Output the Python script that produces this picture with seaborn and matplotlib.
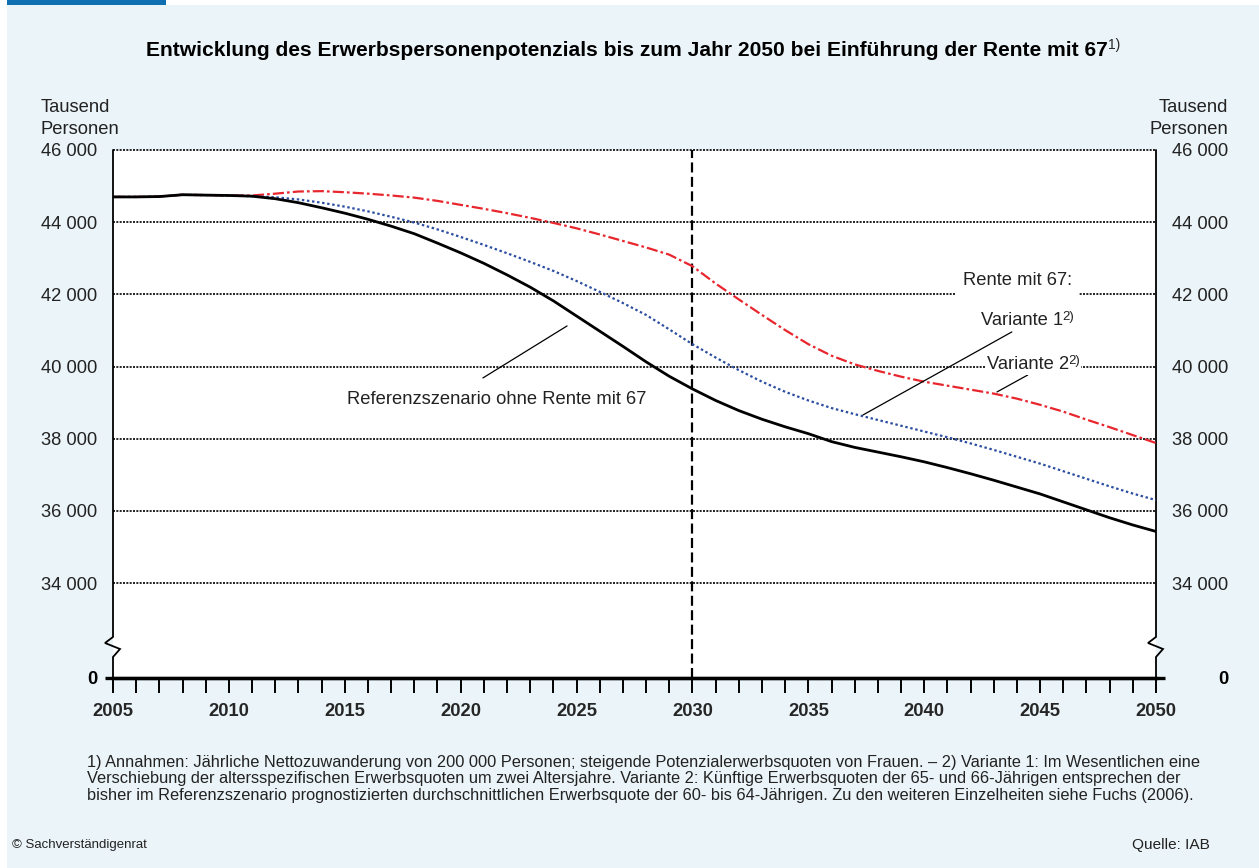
import pandas as pd
import matplotlib
matplotlib.use("Agg")
import matplotlib.pyplot as plt
import seaborn as sns
from matplotlib.patches import Rectangle

# Werte (Tausend Personen)
jahre = list(range(2005, 2051))
referenz = [44700, 44700, 44710, 44760, 44750, 44740, 44720, 44650, 44540, 44400,
            44250, 44080, 43890, 43680, 43420, 43150, 42860, 42540, 42200, 41820,
            41400, 40980, 40560, 40130, 39730, 39380, 39060, 38780, 38540, 38330,
            38140, 37920, 37760, 37630, 37500, 37360, 37200, 37030, 36850, 36660,
            36470, 36250, 36030, 35810, 35610, 35430]
variante1 = [44700, 44700, 44710, 44760, 44750, 44740, 44720, 44690, 44630, 44540,
             44430, 44300, 44150, 43990, 43800, 43590, 43370, 43140, 42900, 42650,
             42370, 42070, 41760, 41430, 41030, 40620, 40250, 39900, 39580, 39300,
             39060, 38850, 38680, 38520, 38360, 38200, 38040, 37870, 37690, 37500,
             37310, 37100, 36890, 36680, 36480, 36300]
variante2 = [44700, 44700, 44710, 44760, 44750, 44740, 44740, 44790, 44850, 44860,
             44830, 44790, 44740, 44680, 44590, 44480, 44370, 44250, 44120, 43980,
             43830, 43660, 43480, 43300, 43100, 42780, 42300, 41860, 41430, 41010,
             40620, 40300, 40060, 39880, 39720, 39580, 39470, 39360, 39250, 39110,
             38940, 38750, 38530, 38320, 38100, 37880]

y_ticks = [34000, 36000, 38000, 40000, 42000, 44000, 46000]
y_labels = ["34 000", "36 000", "38 000", "40 000", "42 000", "44 000", "46 000"]
null_pos = 31370   # Stelle der unterbrochenen Achse, dort steht "0"

W, H = 1259, 868
BG = "#ebf4f8"
TXT = "#222222"
FS = 13.2

def fx(px):
    return px / W

def fy(py):
    return 1 - py / H

df = pd.DataFrame({"Jahr": jahre, "Referenz": referenz,
                   "Variante 1": variante1, "Variante 2": variante2})

sns.set_theme(style="white")
plt.rcParams["font.family"] = ["Liberation Sans", "DejaVu Sans"]

fig = plt.figure(figsize=(12.59, 8.68), dpi=100)
fig.patch.set_facecolor("white")
fig.add_artist(Rectangle((fx(7), 0), 1, fy(4.5), transform=fig.transFigure,
                         facecolor=BG, edgecolor="none", zorder=-10))
fig.add_artist(Rectangle((fx(7), fy(4.5)), fx(159), 4.5 / H, transform=fig.transFigure,
                         facecolor="#0f6fb0", edgecolor="none", zorder=-10))

ax = fig.add_axes([fx(113), fy(678), fx(1043), 528 / H])
ax.set_facecolor("white")

sns.lineplot(data=df, x="Jahr", y="Variante 2", ax=ax, color="#e8262d", lw=1.6,
             linestyle=(0, (5, 1.4, 1.2, 1.4)), zorder=3)
sns.lineplot(data=df, x="Jahr", y="Variante 1", ax=ax, color="#2c4ea0", lw=1.6,
             linestyle=(0, (1.1, 1.2)), zorder=3)
sns.lineplot(data=df, x="Jahr", y="Referenz", ax=ax, color="black", lw=2.0, zorder=4)

for v in y_ticks:
    ax.axhline(v, color="black", lw=1.2, linestyle=(0, (1.2, 0.8)), zorder=1, clip_on=False)
ax.axvline(2030, color="black", lw=1.6, linestyle=(0, (4.5, 2)), zorder=2)

ax.set_xlim(2005, 2050)
ax.set_ylim(null_pos, 46000)
ax.set_xlabel("")
ax.set_ylabel("")

# Achsen mit Unterbrechung
for s in ["top", "left", "right"]:
    ax.spines[s].set_visible(False)
ax.spines["bottom"].set_linewidth(2.4)
ax.spines["bottom"].set_color("black")
ax.plot([-8 / 1043, 1 + 9 / 1043], [0, 0], transform=ax.transAxes, color="black",
        lw=2.4, clip_on=False, solid_capstyle="butt")
bruch_y = [1, 0.0777, 0.0663, 0.0549, 0.0398, 0]
for x0 in [0, 1]:
    bruch_x = [x0, x0, x0 - 8 / 1043, x0 + 7 / 1043, x0, x0]
    ax.plot(bruch_x, bruch_y, transform=ax.transAxes, color="black", lw=1.3,
            clip_on=False, solid_joinstyle="miter")

ax.set_xticks(range(2005, 2051, 5))
ax.set_xticks(range(2005, 2051), minor=True)
ax.tick_params(axis="x", which="both", direction="out", length=11, width=1.4,
               color="black", bottom=True, pad=7)
ax.tick_params(axis="x", labelsize=FS)
for lbl in ax.get_xticklabels():
    lbl.set_fontweight("bold")

ax.set_yticks([null_pos] + y_ticks)
ax.set_yticklabels(["0"] + y_labels, fontsize=FS, color=TXT)
ax.get_yticklabels()[0].set_fontweight("bold")
ax.get_yticklabels()[0].set_color("black")
ax.tick_params(axis="y", length=0, pad=11.5)

ax2 = ax.twinx()
ax2.set_ylim(null_pos, 46000)
ax2.set_yticks([null_pos] + y_ticks)
ax2.set_yticklabels(["0"] + y_labels, fontsize=FS, color=TXT)
ax2.tick_params(axis="y", length=0, pad=52)
for lbl in ax2.get_yticklabels():
    lbl.set_horizontalalignment("right")
ax2.get_yticklabels()[0].set_fontweight("bold")
ax2.get_yticklabels()[0].set_color("black")
for s in ax2.spines.values():
    s.set_visible(False)
ax2.grid(False)

# Einheiten
for txt, py in [("Tausend", 107), ("Personen", 129)]:
    fig.text(fx(40.7), fy(py), txt, ha="left", va="center", fontsize=FS, color=TXT)
    fig.text(fx(1228), fy(py), txt, ha="right", va="center", fontsize=FS, color=TXT)

# Titel
t = fig.text(fx(146), fy(56), "Entwicklung des Erwerbspersonenpotenzials bis zum Jahr 2050 "
             "bei Einführung der Rente mit 67", ha="left", va="baseline",
             fontsize=15.15, fontweight="bold", color="black")
fig.add_artist(plt.Annotation("1)", xy=(1, 1), xycoords=t, xytext=(0, 2),
                              textcoords="offset points", ha="left", va="top", fontsize=10))

# Beschriftungen im Diagramm
ax.text(2021.54, 39075, "Referenzszenario ohne Rente mit 67", ha="center", va="center",
        fontsize=FS, color=TXT, zorder=5)
ax.annotate("", xy=(2024.59, 41125), xytext=(2020.96, 39684),
            arrowprops=dict(arrowstyle="-", lw=0.9, color="black", shrinkA=0, shrinkB=0))

ax.text(2046.37, 42260, "Rente mit 67:", ha="right", va="baseline", fontsize=FS,
        color=TXT, zorder=5,
        bbox=dict(facecolor="white", edgecolor="none", pad=5))

v1 = ax.text(2045.98, 41150, "Variante 1", ha="right", va="baseline", fontsize=FS,
             color=TXT, zorder=5)
ax.annotate("2)", xy=(1, 1), xycoords=v1, xytext=(-0.5, 1), textcoords="offset points",
            ha="left", va="top", fontsize=9.5, color=TXT)
ax.annotate("", xy=(2037.36, 38659), xytext=(2043.78, 40959),
            arrowprops=dict(arrowstyle="-", lw=0.9, color="black", shrinkA=0, shrinkB=0))

v2 = ax.text(2042.7, 40044, "Variante 2", ha="left", va="center", fontsize=FS,
             color=TXT, zorder=5,
             bbox=dict(facecolor="white", edgecolor="none", pad=1))
ax.annotate("2)", xy=(1, 1), xycoords=v2, xytext=(-0.5, 1), textcoords="offset points",
            ha="left", va="top", fontsize=9.5, color=TXT,
            bbox=dict(facecolor="white", edgecolor="none", pad=1))
ax.annotate("", xy=(2043.14, 39296), xytext=(2044.47, 39767),
            arrowprops=dict(arrowstyle="-", lw=0.9, color="black", shrinkA=0, shrinkB=0))

# Fussnoten
fussnote = ("1) Annahmen: Jährliche Nettozuwanderung von 200 000 Personen; steigende "
            "Potenzialerwerbsquoten von Frauen. – 2) Variante 1: Im Wesentlichen eine\n"
            "Verschiebung der altersspezifischen Erwerbsquoten um zwei Altersjahre. "
            "Variante 2: Künftige Erwerbsquoten der 65- und 66-Jährigen entsprechen der\n"
            "bisher im Referenzszenario prognostizierten durchschnittlichen Erwerbsquote "
            "der 60- bis 64-Jährigen. Zu den weiteren Einzelheiten siehe Fuchs (2006).")
fig.text(fx(87), fy(755), fussnote, ha="left", va="top", fontsize=11.8, linespacing=1.12,
         color=TXT)
fig.text(fx(12), fy(845), "© Sachverständigenrat", ha="left", va="center", fontsize=9.5,
         color=TXT)
fig.text(fx(1210), fy(845), "Quelle: IAB", ha="right", va="center", fontsize=11.1,
         color=TXT)

fig.savefig("out.png", dpi=100)
